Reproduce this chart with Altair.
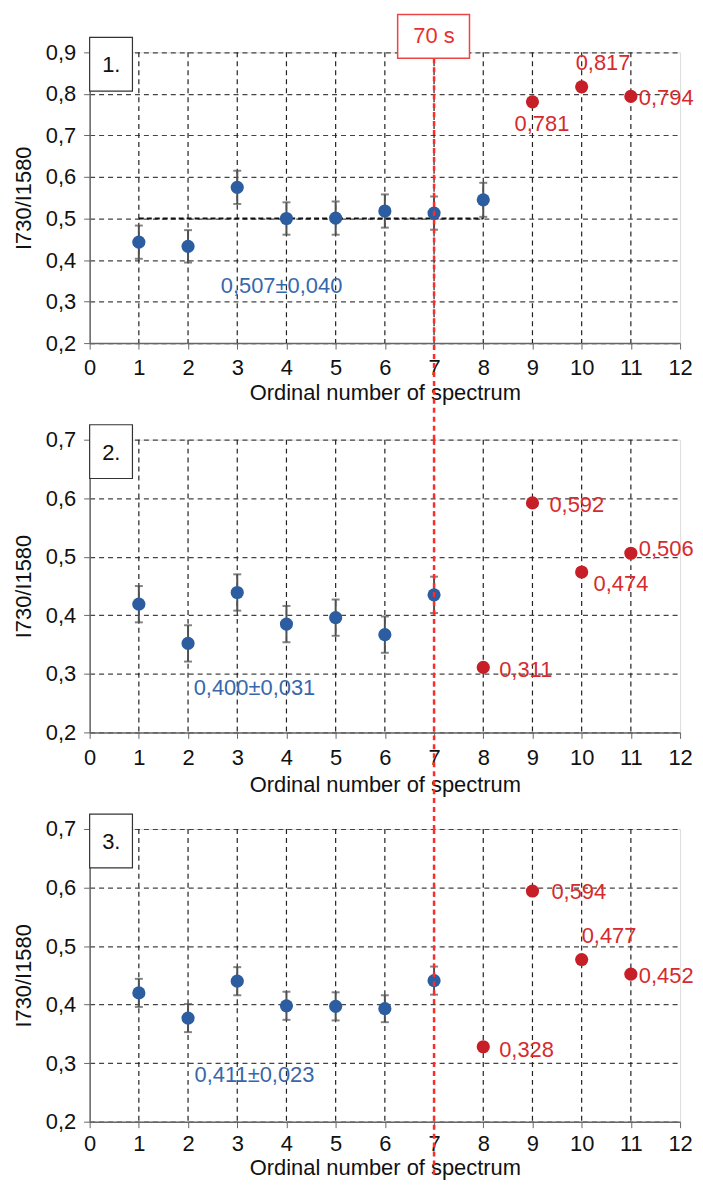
import altair as alt
import pandas as pd

FONT = "Liberation Sans"
FS = 22
BLUE = "#2c5da0"
BLUE_TXT = "#3767ab"
RED = "#c61f28"
RED_TXT = "#d62a2e"
LINE_RED = "#ff2b2b"

# ---- data ----
p1_x = [1, 2, 3, 4, 5, 6, 7, 8]
p1_y = [0.443, 0.433, 0.575, 0.500, 0.501, 0.518, 0.513, 0.545]
p1_err = [0.040, 0.039, 0.040, 0.039, 0.040, 0.040, 0.040, 0.041]
p1_rx = [9, 10, 11]
p1_ry = [0.781, 0.817, 0.794]
p1_rlab = ["0,781", "0,817", "0,794"]
p1_dx = [-18, -6, 8]
p1_dy = [22, -24, 2]
p1_stat = "0,507±0,040"
p1_mean = 0.5

p2_x = [1, 2, 3, 4, 5, 6, 7]
p2_y = [0.419, 0.352, 0.439, 0.385, 0.396, 0.367, 0.435]
p2_err = [0.031, 0.031, 0.031, 0.031, 0.031, 0.031, 0.031]
p2_rx = [8, 9, 10, 11]
p2_ry = [0.311, 0.592, 0.474, 0.506]
p2_rlab = ["0,311", "0,592", "0,474", "0,506"]
p2_dx = [16, 17, 12, 8]
p2_dy = [3, 2, 12, -4]
p2_stat = "0,400±0,031"

p3_x = [1, 2, 3, 4, 5, 6, 7]
p3_y = [0.420, 0.377, 0.440, 0.398, 0.397, 0.393, 0.441]
p3_err = [0.024, 0.024, 0.024, 0.024, 0.024, 0.023, 0.024]
p3_rx = [8, 9, 10, 11]
p3_ry = [0.328, 0.594, 0.477, 0.452]
p3_rlab = ["0,328", "0,594", "0,477", "0,452"]
p3_dx = [16, 19, 0, 8]
p3_dy = [3, 1, -24, 2]
p3_stat = "0,411±0,023"

W = 593


def panel(num, xs, ys, errs, rxs, rys, rlabs, dxs, dys, stat, stat_x, stat_y,
          ymax, ytick, h, rule_top, rule_bottom, lpad, tpad, mean=None, show_box70=False):
    yscale = alt.Scale(domain=[0.2, ymax], nice=False, zero=False)
    xscale = alt.Scale(domain=[0, 12], nice=False)
    blue = pd.DataFrame({"x": xs, "y": ys, "lo": [a - b for a, b in zip(ys, errs)],
                         "hi": [a + b for a, b in zip(ys, errs)]})
    xax = alt.Axis(values=list(range(0, 13)), title="Ordinal number of spectrum",
                   grid=False, tickSize=6, tickColor="#666", domainColor="#666",
                   domainWidth=1.5, labelFont=FONT, labelFontSize=FS, labelColor="#111",
                   labelFlush=False, labelOverlap=False,
                   titleFont=FONT, titleFontSize=FS, titleFontWeight="normal",
                   titleColor="#111", labelPadding=lpad, titlePadding=tpad)
    yax = alt.Axis(values=ytick, title="I730/I1580",
                   labelExpr="replace(format(datum.value, '.1f'), '.', ',')",
                   labelFlush=False, labelOverlap=False,
                   grid=True, gridColor="#444", gridDash=[5, 4], gridWidth=1.2,
                   tickSize=6, tickColor="#666", domainColor="#666", domainWidth=1.5,
                   labelFont=FONT, labelFontSize=FS, labelColor="#111",
                   titleFont=FONT, titleFontSize=FS, titleFontWeight="normal",
                   titleColor="#111", labelPadding=8, titlePadding=10)

    base = alt.Chart(blue)
    vgrid = alt.Chart(pd.DataFrame({"gx": list(range(1, 12))})).mark_rule(
        color="#222", strokeDash=[5, 4], strokeWidth=1.2
    ).encode(x=alt.X("gx:Q", scale=xscale, axis=xax))
    axes_y = alt.Chart(pd.DataFrame({"gy": [0.2]})).mark_point(opacity=0).encode(
        y=alt.Y("gy:Q", scale=yscale, axis=yax))
    layers = [vgrid, axes_y]
    if mean is not None:
        ml = alt.Chart(pd.DataFrame({"x1": [1], "x2": [8], "m": [mean]})).mark_rule(
            color="#111", strokeDash=[5, 3], strokeWidth=2
        ).encode(x=alt.X("x1:Q", scale=xscale), x2="x2:Q", y=alt.Y("m:Q", scale=yscale))
        layers.append(ml)
    err = base.mark_rule(color="#505050", strokeWidth=2).encode(
        x=alt.X("x:Q", scale=xscale), y=alt.Y("lo:Q", scale=yscale), y2="hi:Q")
    cap_lo = base.mark_tick(color="#505050", orient="horizontal", size=8, thickness=2).encode(
        x=alt.X("x:Q", scale=xscale), y=alt.Y("lo:Q", scale=yscale))
    cap_hi = base.mark_tick(color="#505050", orient="horizontal", size=8, thickness=2).encode(
        x=alt.X("x:Q", scale=xscale), y=alt.Y("hi:Q", scale=yscale))
    pts = base.mark_circle(color=BLUE, size=175, opacity=1).encode(
        x=alt.X("x:Q", scale=xscale), y=alt.Y("y:Q", scale=yscale))
    layers += [err, cap_lo, cap_hi, pts]

    red = pd.DataFrame({"x": rxs, "y": rys, "lab": rlabs, "dx": dxs, "dy": dys})
    rpts = alt.Chart(red).mark_circle(color=RED, size=175, opacity=1).encode(
        x=alt.X("x:Q", scale=xscale), y=alt.Y("y:Q", scale=yscale))
    layers.append(rpts)
    for i in range(len(rxs)):
        t = alt.Chart(red.iloc[[i]]).mark_text(
            font=FONT, fontSize=FS, color=RED_TXT, align="left", baseline="middle",
            dx=dxs[i], dy=dys[i]
        ).encode(x=alt.X("x:Q", scale=xscale), y=alt.Y("y:Q", scale=yscale), text="lab:N")
        layers.append(t)

    st = alt.Chart(pd.DataFrame({"x": [stat_x], "y": [stat_y], "t": [stat]})).mark_text(
        font=FONT, fontSize=FS, color=BLUE_TXT, align="center", baseline="middle"
    ).encode(x=alt.X("x:Q", scale=xscale), y=alt.Y("y:Q", scale=yscale), text="t:N")
    layers.append(st)

    nb = pd.DataFrame({"a": [0.0], "b": [0.87], "c": [0.44], "t": [f"{num}."]})
    box = alt.Chart(nb).mark_rect(fill="white", stroke="#333", strokeWidth=1.2, clip=False).encode(
        x=alt.X("a:Q", scale=xscale), x2="b:Q", y=alt.value(-15), y2=alt.value(39))
    boxt = alt.Chart(nb).mark_text(font=FONT, fontSize=FS, color="#111", clip=False,
                                   baseline="middle", align="center").encode(
        x=alt.X("c:Q", scale=xscale), y=alt.value(13), text="t:N")
    layers += [box, boxt]

    rl = alt.Chart(pd.DataFrame({"x": [7]})).mark_rule(
        color=LINE_RED, strokeDash=[5, 4], strokeWidth=2.5, clip=False
    ).encode(x=alt.X("x:Q", scale=xscale), y=alt.value(rule_top), y2=alt.value(rule_bottom))
    layers.append(rl)
    if show_box70:
        bb = pd.DataFrame({"a": [6.26], "b": [7.72], "c": [7.0], "t": ["70 s"]})
        b70 = alt.Chart(bb).mark_rect(fill="white", stroke="#ef4444", strokeWidth=1.5, clip=False).encode(
            x=alt.X("a:Q", scale=xscale), x2="b:Q", y=alt.value(-38), y2=alt.value(6))
        t70 = alt.Chart(bb).mark_text(font=FONT, fontSize=FS, color="#e8302f", clip=False,
                                      baseline="middle", align="center").encode(
            x=alt.X("c:Q", scale=xscale), y=alt.value(-16), text="t:N")
        layers += [b70, t70]

    return alt.layer(*layers).properties(width=W, height=h)


SP = 97
p1 = panel(1, p1_x, p1_y, p1_err, p1_rx, p1_ry, p1_rlab, p1_dx, p1_dy, p1_stat, 3.9, 0.337,
           0.9, [0.2, 0.3, 0.4, 0.5, 0.6, 0.7, 0.8, 0.9], 292, 6, 292 + SP, 9, 4,
           mean=p1_mean, show_box70=True)
p2 = panel(2, p2_x, p2_y, p2_err, p2_rx, p2_ry, p2_rlab, p2_dx, p2_dy, p2_stat, 3.35, 0.276,
           0.7, [0.2, 0.3, 0.4, 0.5, 0.6, 0.7], 294, 0, 294 + SP, 9, 6)
p3 = panel(3, p3_x, p3_y, p3_err, p3_rx, p3_ry, p3_rlab, p3_dx, p3_dy, p3_stat, 3.35, 0.279,
           0.7, [0.2, 0.3, 0.4, 0.5, 0.6, 0.7], 294, 0, 350, 6, 3)

chart = alt.vconcat(p1, p2, p3, spacing=SP, bounds="flush").properties(
    padding={"top": 2, "left": 3, "right": 0, "bottom": 0}
).configure_view(stroke="#777", strokeWidth=1.5).configure(background="white")

chart.save("out.html", embed_options={"renderer": "svg", "actions": False})
